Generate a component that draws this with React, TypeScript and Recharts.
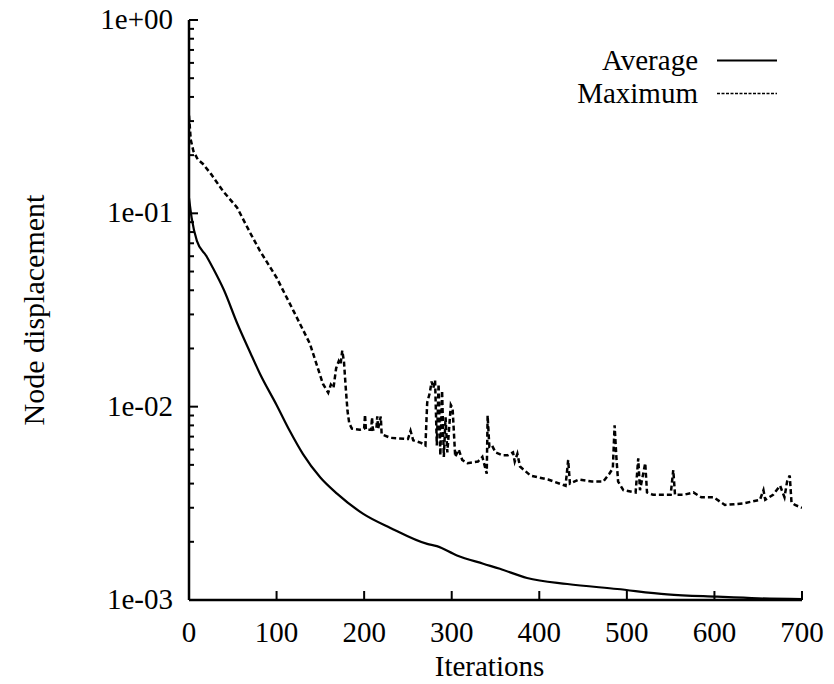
import React from 'react';
import { LineChart, Line, XAxis, YAxis, Legend } from 'recharts';

const avgIter = [0, 3, 9, 20, 27, 40, 55, 70, 81, 100, 115, 130, 150, 169, 199, 230, 272, 283, 306, 336, 355, 386, 432, 489, 546, 603, 650, 700];
const avgVal = [0.12, 0.095, 0.072, 0.06, 0.0525, 0.04, 0.027, 0.019, 0.0148, 0.0102, 0.0075, 0.0057, 0.0043, 0.00355, 0.00279, 0.00236, 0.00195, 0.0019, 0.0017, 0.00154, 0.00145, 0.0013, 0.00121, 0.00114, 0.00107, 0.00104, 0.00102, 0.00101];

const maxIter = [0, 2, 5, 10, 16, 25, 39, 55, 70, 81, 100, 119, 138, 153, 159, 162, 165, 168, 171, 173, 175, 177, 179, 181, 183, 186, 195, 200, 201, 202, 208, 209, 210, 214, 215, 216, 219, 220, 230, 250, 253, 256, 265, 270, 272, 275, 277, 279, 281, 283, 285, 287, 289, 291, 293, 295, 299, 301, 304, 308, 312, 318, 330, 335, 340, 341, 343, 346, 350, 358, 364, 370, 372, 375, 378, 390, 410, 430, 433, 435, 445, 460, 473, 480, 484, 486, 488, 490, 496, 510, 513, 515, 521, 523, 530, 550, 553, 555, 565, 576, 585, 599, 612, 633, 652, 656, 658, 667, 675, 680, 683, 686, 688, 692, 700];
const maxVal = [0.32, 0.24, 0.21, 0.19, 0.18, 0.16, 0.13, 0.107, 0.079, 0.064, 0.0465, 0.0315, 0.0212, 0.0131, 0.0118, 0.013, 0.0125, 0.0158, 0.0172, 0.0165, 0.0195, 0.017, 0.0125, 0.0095, 0.0082, 0.0077, 0.0076, 0.0077, 0.0091, 0.0076, 0.0076, 0.0088, 0.0076, 0.0077, 0.0089, 0.0077, 0.0089, 0.0072, 0.0069, 0.0068, 0.0075, 0.0067, 0.0065, 0.0063, 0.0105, 0.0118, 0.0135, 0.0125, 0.0137, 0.0063, 0.0131, 0.0056, 0.0121, 0.0055, 0.0088, 0.0058, 0.0102, 0.0098, 0.0055, 0.006, 0.0053, 0.0051, 0.0052, 0.0055, 0.0045, 0.009, 0.0062, 0.0063, 0.0058, 0.0056, 0.0056, 0.0058, 0.0052, 0.0057, 0.0049, 0.0044, 0.0042, 0.0039, 0.0053, 0.004, 0.0042, 0.0041, 0.0041, 0.0045, 0.0048, 0.008, 0.0055, 0.0041, 0.0037, 0.0036, 0.0054, 0.0037, 0.0051, 0.0036, 0.0035, 0.0035, 0.0047, 0.0035, 0.0035, 0.0036, 0.0034, 0.0034, 0.0031, 0.00316, 0.0033, 0.0037, 0.0033, 0.0035, 0.0039, 0.0034, 0.0041, 0.0044, 0.0032, 0.0031, 0.003];

const xTicks = [0, 100, 200, 300, 400, 500, 600, 700];
const xTickLabels = ['0', '100', '200', '300', '400', '500', '600', '700'];
const yMajor = [0.001, 0.01, 0.1, 1];
const yTickLabels = ['1e-03', '1e-02', '1e-01', '1e+00'];
const seriesNames = ['Average', 'Maximum'];

const yTicks: number[] = [];
yMajor.forEach((d, i) => {
  yTicks.push(d);
  if (i < yMajor.length - 1) {
    for (let m = 2; m <= 9; m++) yTicks.push(d * m);
  }
});

const avgData = avgIter.map((x, i) => ({ x, y: avgVal[i] }));
const maxData = maxIter.map((x, i) => ({ x, y: maxVal[i] }));

const FONT = "'Times New Roman', Times, Tinos, 'Liberation Serif', 'Noto Serif', 'DejaVu Serif', serif";

const majorIndex = (v: number) => yMajor.findIndex((m) => Math.abs(v / m - 1) < 1e-9);

const XBottomTick = (props: any) => {
  const { x, y, payload } = props;
  const idx = xTicks.indexOf(payload.value);
  return (
    <g>
      <line x1={x} y1={y} x2={x} y2={y - 9} stroke="#000" strokeWidth={2} />
      <text x={x} y={y + 42} textAnchor="middle" style={{ fontFamily: FONT }} fontSize={29} fill="#000">
        {idx >= 0 ? xTickLabels[idx] : ''}
      </text>
    </g>
  );
};

const XTopTick = (props: any) => {
  const { x, y } = props;
  return <line x1={x} y1={y} x2={x} y2={y + 9} stroke="#000" strokeWidth={2} />;
};

const YLeftTick = (props: any) => {
  const { x, y, payload } = props;
  const idx = majorIndex(payload.value);
  const len = idx >= 0 ? 9 : 5;
  return (
    <g>
      <line x1={x} y1={y} x2={x + len} y2={y} stroke="#000" strokeWidth={2} />
      {idx >= 0 && (
        <text x={x - 16} y={y + 9} textAnchor="end" style={{ fontFamily: FONT }} fontSize={29} fill="#000">
          {yTickLabels[idx]}
        </text>
      )}
    </g>
  );
};

const YRightTick = (props: any) => {
  const { x, y, payload } = props;
  const idx = majorIndex(payload.value);
  const len = idx >= 0 ? 9 : 5;
  return <line x1={x} y1={y} x2={x - len} y2={y} stroke="#000" strokeWidth={2} />;
};

const LegendContent = () => {
  const rows = [
    { name: seriesNames[0], dash: undefined as string | undefined, w: 2 },
    { name: seriesNames[1], dash: '3 1.5', w: 1.5 },
  ];
  return (
    <div style={{ fontFamily: FONT, fontSize: 29, color: '#000' }}>
      {rows.map((r) => (
        <div key={r.name} style={{ display: 'flex', alignItems: 'flex-start', height: 33, lineHeight: '33px' }}>
          <span style={{ width: 150, textAlign: 'right', display: 'inline-block', whiteSpace: 'nowrap' }}>{r.name}</span>
          <svg width={62} height={33} style={{ marginLeft: 19, display: 'block' }}>
            <line x1={0} y1={16.5} x2={60} y2={16.5} stroke="#000" strokeWidth={r.w} strokeDasharray={r.dash} />
          </svg>
        </div>
      ))}
    </div>
  );
};

export default function App() {
  return (
    <div style={{ margin: -8, width: 834, height: 684 }}>
      <LineChart width={834} height={684} margin={{ top: 20, right: 32, left: 0, bottom: 24 }}>
        <XAxis
          dataKey="x"
          type="number"
          domain={[0, 700]}
          ticks={xTicks}
          interval={0}
          allowDataOverflow
          height={60}
          tickSize={0}
          tickMargin={0}
          tickLine={false}
          axisLine={{ stroke: '#000', strokeWidth: 2.5 }}
          tick={<XBottomTick />}
          label={{
            content: (p: any) => {
              const vb = p.viewBox;
              return (
                <text x={vb.x + vb.width / 2 - 6} y={vb.y + 76} textAnchor="middle" style={{ fontFamily: FONT }} fontSize={29} fill="#000">
                  Iterations
                </text>
              );
            },
          }}
        />
        <XAxis
          xAxisId="top"
          orientation="top"
          type="number"
          domain={[0, 700]}
          ticks={xTicks}
          interval={0}
          allowDataOverflow
          height={0}
          tickSize={0}
          tickMargin={0}
          tickLine={false}
          axisLine={{ stroke: '#000', strokeWidth: 2.5 }}
          tick={<XTopTick />}
        />
        <YAxis
          scale="log"
          type="number"
          domain={[0.001, 1]}
          ticks={yTicks}
          interval={0}
          allowDataOverflow
          width={189}
          tickSize={0}
          tickMargin={0}
          tickLine={false}
          axisLine={{ stroke: '#000', strokeWidth: 2.5 }}
          tick={<YLeftTick />}
          label={{
            content: (p: any) => {
              const vb = p.viewBox;
              const cx = vb.x + 33;
              const cy = vb.y + vb.height / 2;
              return (
                <text x={cx} y={cy} transform={`rotate(-90, ${cx}, ${cy})`} textAnchor="middle" dominantBaseline="central" style={{ fontFamily: FONT }} fontSize={30} fill="#000">
                  Node displacement
                </text>
              );
            },
          }}
        />
        <YAxis
          yAxisId="right"
          orientation="right"
          scale="log"
          type="number"
          domain={[0.001, 1]}
          ticks={yTicks}
          interval={0}
          allowDataOverflow
          width={0}
          tickSize={0}
          tickMargin={0}
          tickLine={false}
          axisLine={{ stroke: '#000', strokeWidth: 2.5 }}
          tick={<YRightTick />}
        />
        <Legend
          layout="vertical"
          align="center"
          verticalAlign="middle"
          content={<LegendContent />}
          wrapperStyle={{ top: 44, left: 548, width: 240, height: 66 }}
        />
        <Line
          data={avgData}
          dataKey="y"
          name={seriesNames[0]}
          type="monotone"
          dot={false}
          stroke="#000"
          strokeWidth={2.2}
          isAnimationActive={false}
        />
        <Line
          data={maxData}
          dataKey="y"
          name={seriesNames[1]}
          type="linear"
          dot={false}
          stroke="#000"
          strokeWidth={2.5}
          strokeDasharray="5 3"
          isAnimationActive={false}
        />
      </LineChart>
    </div>
  );
}
